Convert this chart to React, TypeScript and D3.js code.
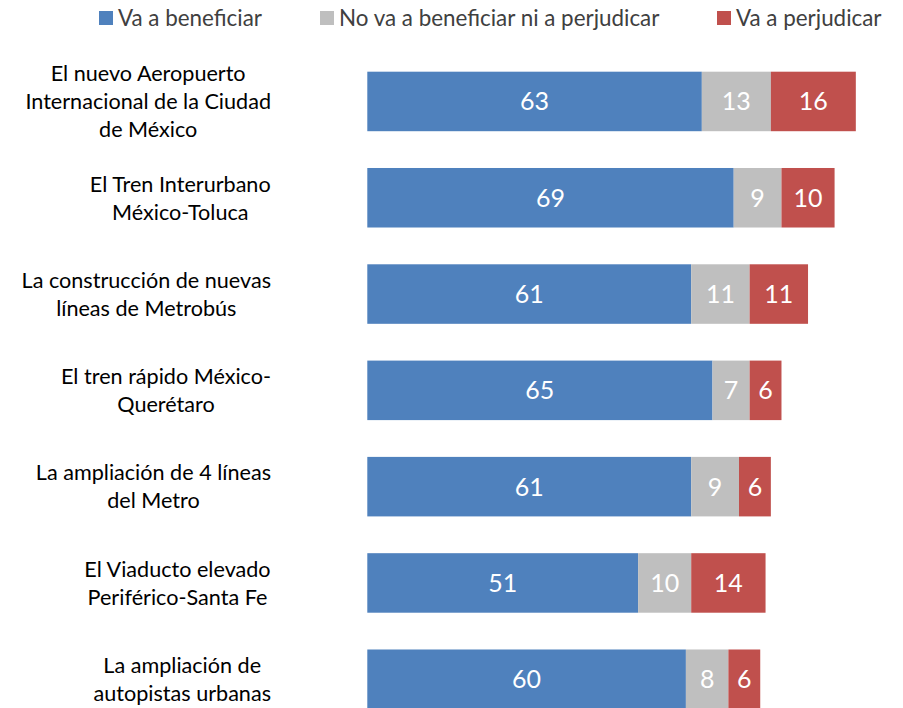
import React from "react";
import * as d3 from "d3";

const width = 903;
const height = 708;

const categories = [
  "El nuevo Aeropuerto\nInternacional de la Ciudad\nde México",
  "El Tren Interurbano\nMéxico-Toluca",
  "La construcción de nuevas\nlíneas de Metrobús",
  "El tren rápido México-\nQuerétaro",
  "La ampliación de 4 líneas\ndel Metro",
  "El Viaducto elevado\nPeriférico-Santa Fe",
  "La ampliación de\nautopistas urbanas"
];

const beneficiar = [63, 69, 61, 65, 61, 51, 60];
const neutral = [13, 9, 11, 7, 9, 10, 8];
const perjudicar = [16, 10, 11, 6, 6, 14, 6];

const seriesNames = [
  "Va a beneficiar",
  "No va a beneficiar ni a perjudicar",
  "Va a perjudicar"
];
const seriesKeys = ["beneficiar", "neutral", "perjudicar"];
const colors = ["#4F81BD", "#BFBFBF", "#C0504D"];

const labelFont = "Lato, 'Noto Sans', sans-serif";

// measure text with a canvas so each label block can be right aligned
const canvas = typeof document !== "undefined" ? document.createElement("canvas") : null;
const ctx = canvas ? canvas.getContext("2d") : null;
function textWidth(s: string, size: number) {
  if (!ctx) return s.length * size * 0.5;
  ctx.font = `${size}px Lato`;
  return ctx.measureText(s).width;
}

export default function App() {
  const rows = categories.map((c, i) => ({
    category: c,
    beneficiar: beneficiar[i],
    neutral: neutral[i],
    perjudicar: perjudicar[i]
  }));

  const stack = d3.stack<any>().keys(seriesKeys);
  const stackData = stack(rows);

  const xScale = d3.scaleLinear().domain([0, 100]).range([367.3, 898.3]);

  const yScale = d3
    .scaleBand()
    .domain(categories)
    .range([53.3, 727.4])
    .paddingInner(0.382)
    .paddingOuter(0.191);

  const colorScale = d3.scaleOrdinal<string>().domain(seriesKeys).range(colors);

  const labelSize = 21.6;
  const lineHeight = 28;
  const labelRight = 271;

  const legendX = [99, 320, 717];

  return (
    <svg
      width={width}
      height={height}
      style={{ position: "absolute", left: 0, top: 0, background: "#fff" }}
    >
      {/* legend */}
      <g>
        {seriesNames.map((name, i) => (
          <g key={name} transform={`translate(${legendX[i]},11)`}>
            <rect width={14} height={14} fill={colors[i]} />
            <text
              x={19}
              y={7}
              dy="0.36em"
              fontFamily={labelFont}
              fontSize={22.4}
              fill="#404040"
            >
              {name}
            </text>
          </g>
        ))}
      </g>

      {/* bars */}
      {stackData.map(series => (
        <g key={series.key} fill={colorScale(series.key)}>
          {series.map((d, j) => (
            <rect
              key={j}
              x={xScale(d[0])}
              y={yScale(categories[j])}
              width={xScale(d[1]) - xScale(d[0])}
              height={yScale.bandwidth()}
            />
          ))}
        </g>
      ))}

      {/* value labels */}
      {stackData.map(series => (
        <g key={series.key + "-lbl"}>
          {series.map((d, j) => (
            <text
              key={j}
              x={(xScale(d[0]) + xScale(d[1])) / 2}
              y={(yScale(categories[j]) as number) + yScale.bandwidth() / 2}
              dy="0.36em"
              textAnchor="middle"
              fontFamily={labelFont}
              fontSize={25}
              fill="#fff"
            >
              {d[1] - d[0]}
            </text>
          ))}
        </g>
      ))}

      {/* category labels */}
      {categories.map(c => {
        const lines = c.split("\n");
        const blockW = d3.max(lines, l => textWidth(l, labelSize)) || 0;
        const cx = labelRight - blockW / 2;
        const cy = (yScale(c) as number) + yScale.bandwidth() / 2;
        const top = cy - ((lines.length - 1) * lineHeight) / 2;
        return (
          <text
            key={c}
            textAnchor="middle"
            fontFamily={labelFont}
            fontSize={labelSize}
            fill="#000"
          >
            {lines.map((l, k) => (
              <tspan key={k} x={cx} y={top + k * lineHeight} dy="0.36em">
                {l}
              </tspan>
            ))}
          </text>
        );
      })}
    </svg>
  );
}
